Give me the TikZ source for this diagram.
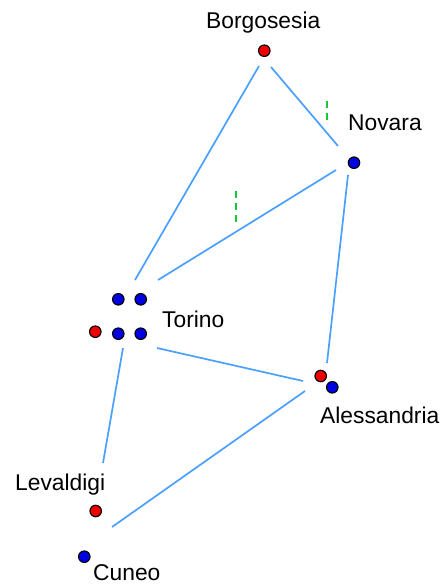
\documentclass[tikz,border=0pt]{standalone}
\usepackage{fontspec}
\setmainfont{Liberation Sans}
\definecolor{edgeblue}{RGB}{74,160,255}
\definecolor{dotred}{RGB}{240,0,0}
\definecolor{dotblue}{RGB}{0,0,225}
\definecolor{markgreen}{RGB}{20,200,60}
\begin{document}
\begin{tikzpicture}[x=1pt,y=-1pt,
  reddot/.style={circle,draw=black,line width=1.1pt,fill=dotred,minimum size=11.5pt,inner sep=0pt},
  bluedot/.style={circle,draw=black,line width=1.1pt,fill=dotblue,minimum size=11.5pt,inner sep=0pt},
  lbl/.style={anchor=base west,inner sep=0pt,font=\fontsize{22.8}{26}\selectfont},
  edge/.style={draw=edgeblue,line width=1.7pt},
  greenmark/.style={draw=markgreen,line width=1.8pt,dash pattern=on 7pt off 5pt}]
\useasboundingbox (0,0) rectangle (446,584);
\fill[white] (0,0) rectangle (446,584);
% dots
\node[reddot] (bor) at (264.3,50.7) {};
\node[bluedot] (nov) at (354,162.7) {};
\node[bluedot] (tor1) at (118.3,299.3) {};
\node[bluedot] (tor2) at (140.7,299.3) {};
\node[reddot] (tor3) at (95.3,331.7) {};
\node[bluedot] (tor4) at (118.3,333.7) {};
\node[bluedot] (tor5) at (140.7,333.7) {};
\node[reddot] (ale1) at (320.7,376) {};
\node[bluedot] (ale2) at (332.3,387.3) {};
\node[reddot] (lev) at (95.7,511) {};
\node[bluedot] (cun) at (84.3,556.7) {};
% labels
\node[lbl] (lbor) at (206,28) {Borgosesia};
\node[lbl] (lnov) at (348,130) {Novara};
\node[lbl] (ltor) at (162,327) {Torino};
\node[lbl] (lale) at (320,423) {Alessandria};
\node[lbl] (llev) at (15,490) {Levaldigi};
\node[lbl] (lcun) at (93,580) {Cuneo};
% connector end points
\coordinate (bT) at (259,66);
\coordinate (tB) at (135,280);
\coordinate (bN) at (271,67);
\coordinate (nB) at (338,146);
\coordinate (nT) at (336,170);
\coordinate (tN) at (158,280);
\coordinate (nA) at (348,175);
\coordinate (aN) at (327,363);
\coordinate (tA) at (157,348);
\coordinate (aT) at (303,381);
\coordinate (tL) at (123,348);
\coordinate (lT) at (103,463);
\coordinate (aC) at (305,391);
\coordinate (cA) at (112,527);
\draw[edge] (bT) -- (tB);
\draw[edge] (bN) -- (nB);
\draw[edge] (nT) -- (tN);
\draw[edge] (nA) -- (aN);
\draw[edge] (tA) -- (aT);
\draw[edge] (tL) -- (lT);
\draw[edge] (aC) -- (cA);
% green marks
\coordinate (g1a) at (326.7,100.5);
\coordinate (g1b) at (326.7,122);
\coordinate (g2a) at (236,191);
\coordinate (g2b) at (236,223);
\draw[greenmark] (g1a) -- (g1b);
\draw[greenmark] (g2a) -- (g2b);
\end{tikzpicture}
\end{document}
